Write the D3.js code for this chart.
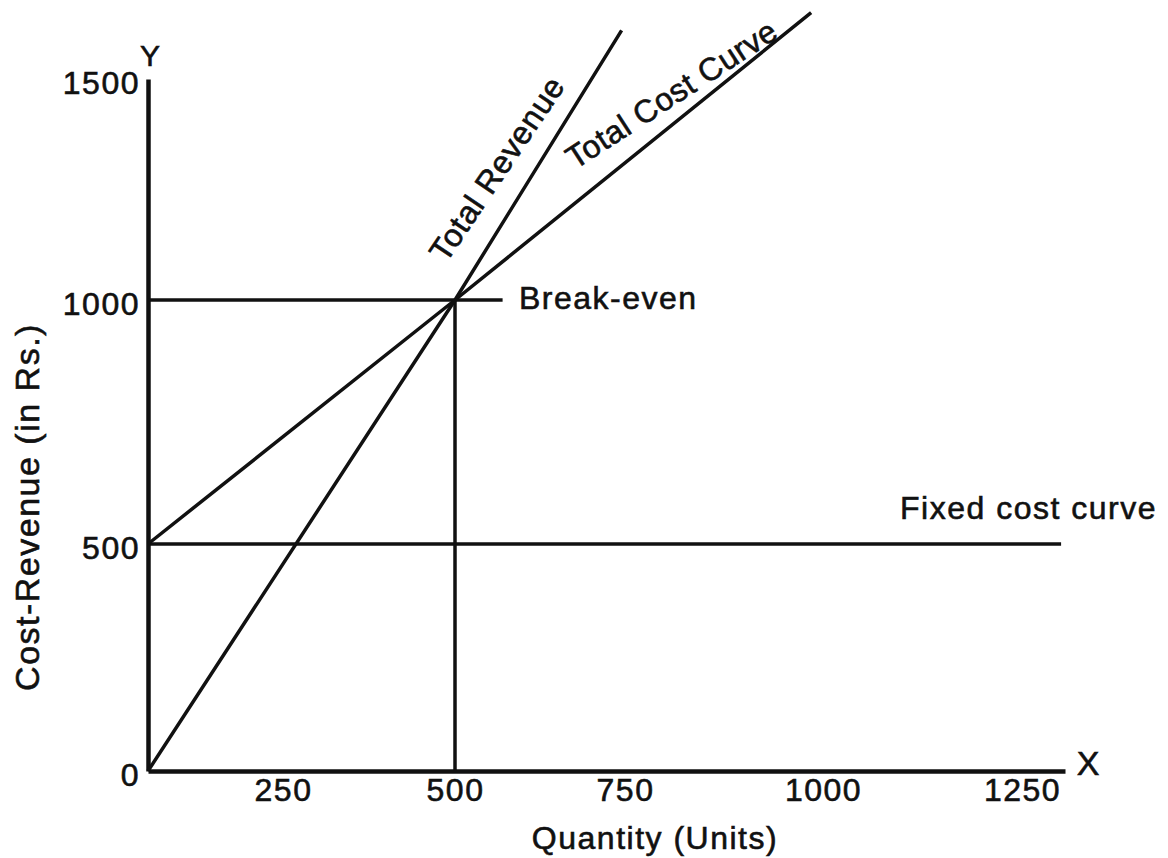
<!DOCTYPE html>
<html>
<head>
<meta charset="utf-8">
<script src="https://cdn.jsdelivr.net/npm/d3@7"></script>
<style>
  body { margin: 0; background: #fff; }
  svg text { font-family: "Liberation Sans", Arial, sans-serif; fill: #111; stroke: #111; stroke-width: 0.6px; }
  .axis path { stroke: #111; stroke-width: 4.5; }
  .axis text { font-size: 32px; letter-spacing: 1.5px; }
  .curve { fill: none; stroke: #111; stroke-width: 3.5; stroke-linecap: butt; }
  .label { font-size: 32px; letter-spacing: 1.5px; }
</style>
</head>
<body>
<div id="chart"></div>
<script>
// Break-even chart data (Quantity in units, Cost/Revenue in Rs.)
const xTicks = [250, 500, 750, 1000, 1250];
const yTicks = [0, 500, 1000, 1500];
const revenue = [[0, 0], [500, 1000], [745, 1610]];
const totalCost = [[0, 500], [500, 1000], [985, 1650]];
const fixedCost = [[0, 500], [1300, 500]];
const breakEvenH = [[0, 1000], [570, 1000]];
const breakEvenV = [[500, 1000], [500, 0]];

// Dimensions
let w = 1168, h = 858;
let svg = d3.select("#chart").append("svg").attr("width", w).attr("height", h);

// Scales (the scanned figure is not evenly spaced, so use a piecewise scale)
let xScale = d3.scaleLinear().domain([0, 250, 500, 750, 1000, 1250, 1305]).range([148, 283, 455, 625, 823, 1022, 1065]);
let yScale = d3.scaleLinear().domain([0, 500, 1000, 1500]).range([771, 544, 300, 79]);

let line = d3.line().x((d) => { return xScale(d[0]); }).y((d) => { return yScale(d[1]); });

// Axes
let xAxis = d3.axisBottom(xScale).tickValues(xTicks).tickSize(0).tickPadding(7).tickSizeOuter(0).tickFormat(d3.format("d"));
let yAxis = d3.axisLeft(yScale).tickValues(yTicks).tickSize(0).tickPadding(8).tickSizeOuter(0).tickFormat(d3.format("d"));

let gx = svg.append("g").attr("class", "axis").attr("transform", "translate(0, " + yScale(0) + ")").call(xAxis);
let gy = svg.append("g").attr("class", "axis").attr("transform", "translate(" + xScale(0) + ", 0)").call(yAxis);
gx.selectAll("text").attr("font-size", null).attr("font-family", null);
gy.selectAll("text").attr("font-size", null).attr("font-family", null).attr("dy", "0.45em");

// Curves
svg.append("path").datum(fixedCost).attr("class", "curve").attr("d", line);
svg.append("path").datum(breakEvenH).attr("class", "curve").attr("d", line);
svg.append("path").datum(breakEvenV).attr("class", "curve").attr("d", line);
svg.append("path").datum(totalCost).attr("class", "curve").attr("d", line);
svg.append("path").datum(revenue).attr("class", "curve").attr("d", line);

// Axis letters & titles
svg.append("text").text("Y").attr("x", 150).attr("y", 66).attr("text-anchor", "middle").style("font-size", "30px");
svg.append("text").text("X").attr("x", 1088).attr("y", 775).attr("text-anchor", "middle").style("font-size", "34px");
svg.append("text").text("Quantity (Units)").attr("class", "label").attr("x", 655).attr("y", 849).attr("text-anchor", "middle");
svg.append("text").text("Cost-Revenue (in Rs.)").attr("class", "label")
  .attr("transform", "translate(39, 507) rotate(-90)").attr("text-anchor", "middle").style("font-size", "34px");

// Curve labels
svg.append("text").text("Break-even").attr("class", "label").attr("x", 519).attr("y", 309);
svg.append("text").text("Fixed cost curve").attr("class", "label").attr("x", 900).attr("y", 519);
svg.append("text").text("Total Revenue").attr("class", "label").style("letter-spacing", "0.8px")
  .attr("transform", "translate(446, 264) rotate(-56)");
svg.append("text").text("Total Cost Curve").attr("class", "label").style("letter-spacing", "0.5px")
  .attr("transform", "translate(575, 170) rotate(-33)");
</script>
</body>
</html>
